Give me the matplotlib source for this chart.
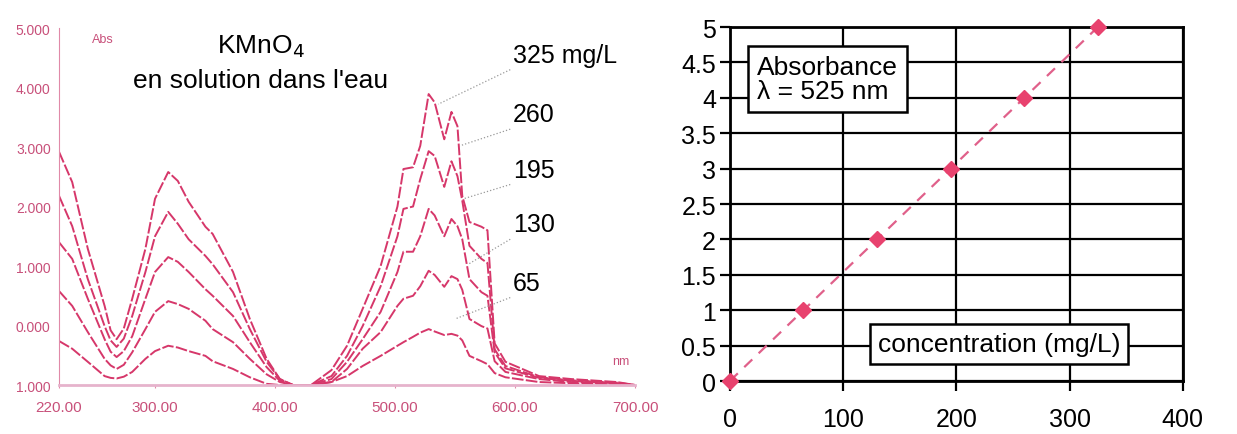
import numpy as np
import matplotlib.pyplot as plt

plt.rcParams['font.family'] = ['Liberation Sans', 'DejaVu Sans']

# spectra of KMnO4 (Abs vs wavelength, nm)
wl = [220, 231, 244, 258, 263, 268, 274, 281, 292, 300, 311, 319, 328, 342, 348, 365,
      379, 393, 404, 415, 430, 447, 460, 473, 488, 502, 507, 515, 521, 528,
      533, 541, 547, 552, 556, 562, 572, 577, 583, 592, 620, 647, 685, 700]
abs_325 = [2.92, 2.41, 1.29, 0.33, -0.08, -0.23, -0.05, 0.45, 1.29, 2.13, 2.58, 2.43, 2.08, 1.66, 1.54, 0.90,
           0.11, -0.56, -0.90, -1.0, -1.0, -0.75, -0.34, 0.28, 1.00, 2.00, 2.63, 2.66, 3.02, 3.89,
           3.75, 3.13, 3.59, 3.35, 2.18, 1.74, 1.66, 1.60, -0.30, -0.61, -0.85, -0.90, -0.95, -1.0]
abs_260 = [2.18, 1.67, 0.78, -0.01, -0.25, -0.36, -0.22, 0.16, 0.90, 1.50, 1.91, 1.71, 1.45, 1.17, 1.03, 0.56,
           -0.06, -0.61, -0.90, -1.0, -1.0, -0.85, -0.51, -0.01, 0.66, 1.50, 1.96, 2.00, 2.46, 2.93,
           2.85, 2.33, 2.76, 2.51, 2.10, 1.34, 1.12, 1.05, -0.40, -0.68, -0.87, -0.92, -0.96, -1.0]
abs_195 = [1.40, 1.12, 0.45, -0.23, -0.44, -0.53, -0.43, -0.18, 0.45, 0.90, 1.15, 1.07, 0.90, 0.61, 0.50, 0.16,
           -0.28, -0.70, -0.93, -1.0, -1.0, -0.90, -0.61, -0.23, 0.23, 0.90, 1.24, 1.24, 1.50, 1.96,
           1.85, 1.50, 1.79, 1.67, 1.45, 0.78, 0.56, 0.50, -0.45, -0.72, -0.88, -0.93, -0.97, -1.0]
abs_130 = [0.58, 0.33, -0.11, -0.56, -0.67, -0.73, -0.66, -0.45, -0.06, 0.23, 0.41, 0.36, 0.28, 0.08, -0.06, -0.28,
           -0.56, -0.82, -0.95, -1.0, -1.0, -0.95, -0.73, -0.39, -0.11, 0.33, 0.45, 0.50, 0.66, 0.92,
           0.85, 0.65, 0.83, 0.78, 0.60, 0.11, -0.01, -0.05, -0.60, -0.78, -0.90, -0.95, -0.98, -1.0]
abs_65 = [-0.26, -0.39, -0.61, -0.85, -0.88, -0.89, -0.86, -0.78, -0.56, -0.43, -0.34, -0.37, -0.43, -0.51, -0.60, -0.73,
          -0.87, -0.98, -1.0, -1.0, -1.0, -0.95, -0.85, -0.68, -0.51, -0.34, -0.28, -0.19, -0.12, -0.06,
          -0.10, -0.16, -0.14, -0.17, -0.25, -0.51, -0.60, -0.65, -0.80, -0.87, -0.95, -0.97, -0.99, -1.0]
spectra = [abs_325, abs_260, abs_195, abs_130, abs_65]
spec_labels = ['325 mg/L', '260', '195', '130', '65']
left_yticks = [-1, 0, 1, 2, 3, 4, 5]
left_ylabels = ['1.000', '0.000', '1.000', '2.000', '3.000', '4.000', '5.000']
left_xticks = [220, 300, 400, 500, 600, 700]
left_xlabels = ['220.00', '300.00', '400.00', '500.00', '600.00', '700.00']

# calibration line at 525 nm
conc = [0, 65, 130, 195, 260, 325]
absorb = [0, 1, 2, 3, 4, 5]

pink = '#d6376a'
pale = '#e08aa8'

fig = plt.figure(figsize=(12.37, 4.35), dpi=100)

# ---- left: spectra
ax1 = fig.add_axes([0.0477, 0.1126, 0.4657, 0.8207])
for s in spectra:
    ax1.plot(wl, s, color=pink, lw=1.4, dashes=(6, 1.2))
ax1.set_xlim(220, 700)
ax1.set_ylim(-1, 5)
ax1.spines['top'].set_visible(False)
ax1.spines['right'].set_visible(False)
ax1.spines['left'].set_color(pale)
ax1.spines['bottom'].set_color('#e6b3cc')
ax1.spines['bottom'].set_linewidth(2)
ax1.set_yticks(left_yticks, left_ylabels)
ax1.set_xticks(left_xticks, left_xlabels)
ax1.tick_params(axis='y', length=0, pad=6, labelsize=10, labelcolor='#c8507a')
ax1.tick_params(axis='x', length=2, color=pale, pad=9, labelsize=11, labelcolor='#c8507a')
ax1.text(0.058, 0.985, 'Abs', transform=ax1.transAxes, fontsize=9, color='#c8507a', va='top')
ax1.text(0.96, 0.06, 'nm', transform=ax1.transAxes, fontsize=9, color='#c8507a')
ax1.text(0.35, 0.95, 'KMnO$_4$', transform=ax1.transAxes, fontsize=19, ha='center', va='center')
ax1.text(0.35, 0.855, "en solution dans l'eau", transform=ax1.transAxes, fontsize=19,
         ha='center', va='center')

# labels with dotted leader lines (label pos, curve pos)
label_xy = [(596, 4.55), (596, 3.55), (596, 2.62), (596, 1.70), (596, 0.72)]
leader_end = [(536, 3.72), (554, 3.02), (557, 2.13), (561, 1.03), (550, 0.11)]
for lab, (lx, ly), (ex, ey) in zip(spec_labels, label_xy, leader_end):
    ax1.text(lx + 2, ly, lab, fontsize=18, va='center', ha='left')
    ax1.plot([lx, ex], [ly - 0.25, ey], color='#999999', lw=0.9, ls=':')

# ---- right: calibration
ax2 = fig.add_axes([0.590, 0.1218, 0.3662, 0.8138])
ax2.plot(conc, absorb, color='#e0608a', lw=1.6, dashes=(5, 4), zorder=3, clip_on=False)
ax2.plot(conc, absorb, ls='none', marker='D', ms=8, color='#e8426e', zorder=4, clip_on=False)
ax2.set_xlim(0, 400)
ax2.set_ylim(0, 5)
ax2.set_xticks([0, 100, 200, 300, 400])
ax2.set_yticks(np.arange(0, 5.01, 0.5), ['0', '0.5', '1', '1.5', '2', '2.5', '3', '3.5', '4', '4.5', '5'])
ax2.grid(True, color='black', lw=1.6)
for sp in ax2.spines.values():
    sp.set_linewidth(2)
ax2.tick_params(axis='both', direction='out', length=7, width=1.6, labelsize=18)
ax2.tick_params(axis='x', pad=12)
ax2.tick_params(axis='y', pad=3)
ax2.text(0.06, 0.853, 'Absorbance\n\u03bb = 525 nm', transform=ax2.transAxes, fontsize=19,
         va='center', ha='left', linespacing=1.0, zorder=5,
         bbox=dict(boxstyle='square,pad=0.35', fc='white', ec='black', lw=1.8))
ax2.text(0.594, 0.105, 'concentration (mg/L)', transform=ax2.transAxes, fontsize=19,
         va='center', ha='center', zorder=5,
         bbox=dict(boxstyle='square,pad=0.3', fc='white', ec='black', lw=1.8))

fig.savefig('out.png', dpi=100, facecolor='white')
